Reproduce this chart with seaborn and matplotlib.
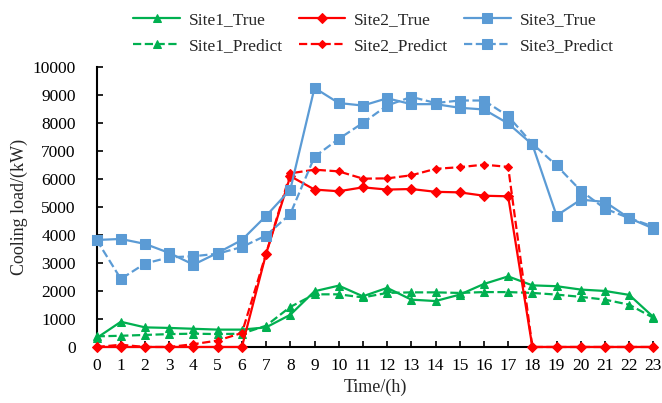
import pandas as pd
import matplotlib.pyplot as plt
import seaborn as sns

hours = list(range(24))

site1_true = [320, 900, 700, 680, 650, 620, 620, 700, 1150, 1990, 2190, 1810,
              2110, 1690, 1640, 1870, 2250, 2520, 2200, 2170, 2050, 2000, 1860, 1070]
site1_pred = [380, 400, 430, 460, 475, 460, 475, 760, 1430, 1880, 1880, 1770,
              1930, 1950, 1950, 1930, 1960, 1960, 1930, 1870, 1790, 1690, 1510, 1040]
site2_true = [0, 0, 0, 0, 0, 0, 0, 3330, 6100, 5620, 5560, 5700,
              5620, 5640, 5540, 5520, 5400, 5380, 0, 0, 0, 0, 0, 0]
site2_pred = [0, 80, 0, 0, 100, 230, 500, 3330, 6200, 6330, 6270, 6010,
              6020, 6130, 6360, 6420, 6510, 6430, 0, 0, 0, 0, 0, 0]
site3_true = [3820, 3857, 3680, 3357, 2940, 3360, 3820, 4680, 5620, 9250, 8710, 8620,
              8880, 8670, 8670, 8540, 8480, 7980, 7230, 4690, 5260, 5180, 4600, 4230]
site3_pred = [3820, 2430, 2980, 3200, 3240, 3330, 3570, 3980, 4750, 6790, 7430, 8000,
              8620, 8930, 8710, 8800, 8800, 8240, 7260, 6480, 5580, 4940, 4600, 4300]

series = [
    ("Site1_True", site1_true, "#00B050", "^", "-", 6),
    ("Site1_Predict", site1_pred, "#00B050", "^", "--", 6),
    ("Site2_True", site2_true, "#FF0000", "D", "-", 5),
    ("Site2_Predict", site2_pred, "#FF0000", "D", "--", 4),
    ("Site3_True", site3_true, "#5B9BD5", "s", "-", 6.5),
    ("Site3_Predict", site3_pred, "#5B9BD5", "s", "--", 6.5),
]

sns.set_style("white")
plt.rcParams['font.family'] = ['Liberation Serif', 'DejaVu Serif']

fig, ax = plt.subplots(figsize=(6.62, 4.03), dpi=100)
fig.subplots_adjust(left=0.146, right=0.987, bottom=0.139, top=0.834)

for name, vals, color, marker, ls, ms in series:
    df = pd.DataFrame({"hour": hours, "load": vals})
    sns.lineplot(data=df, x="hour", y="load", ax=ax, color=color, marker=marker,
                 linestyle=ls, markersize=ms, markeredgecolor=color, linewidth=1.6,
                 label=name, clip_on=False, zorder=3)

ax.set_xlim(0, 23)
ax.set_ylim(0, 10000)
ax.set_xticks(hours)
ax.set_yticks(range(0, 10001, 1000))
ax.set_xlabel("Time/(h)", fontsize=13, labelpad=3)
ax.set_ylabel("Cooling load/(kW)", fontsize=13, labelpad=3)
ax.tick_params(axis="both", direction="in", length=4, width=1.2, labelsize=12.5,
               colors="black", bottom=True, left=True)
ax.tick_params(axis="y", pad=15)
ax.tick_params(axis="x", pad=8)

sns.despine(ax=ax)
for s in ["left", "bottom"]:
    ax.spines[s].set_color("black")
    ax.spines[s].set_linewidth(1.5)

ax.legend(loc="lower center", bbox_to_anchor=(0.497, 1.01), ncol=3, frameon=False,
          fontsize=12.5, handlelength=2.7, columnspacing=0.9, handletextpad=0.5,
          labelspacing=0.55, borderaxespad=0.2)

plt.savefig("out.png", dpi=100)
